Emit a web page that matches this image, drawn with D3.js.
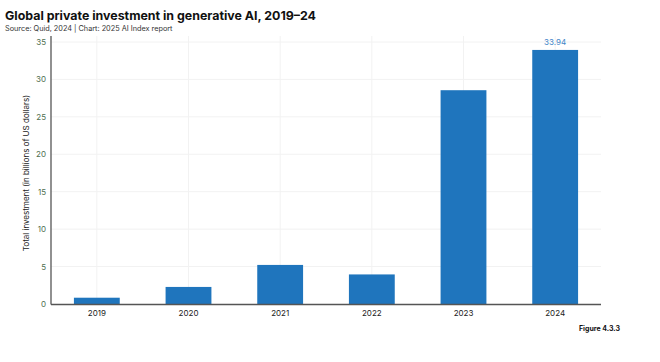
<!DOCTYPE html>
<head>
<meta charset="utf-8">
<script src="https://d3js.org/d3.v7.min.js"></script>
<style>
  body { margin: 0; background: #fff; font-family: Inter, "Noto Sans", sans-serif; }
</style>
</head>
<body>
<div id="chart"></div>
<script>
// data
var years = ["2019", "2020", "2021", "2022", "2023", "2024"];
var investment = [0.84, 2.28, 5.22, 3.95, 28.56, 33.94];
var yTicks = [0, 5, 10, 15, 20, 25, 30, 35];

var W = 660, H = 362;
var plotLeft = 51, plotRight = 601, plotTop = 42, plotBottom = 304;

var svg = d3.select("#chart").append("svg")
    .attr("width", W)
    .attr("height", H);

var x = d3.scaleBand().domain(years).range([plotLeft, plotRight])
    .paddingInner(0.5).paddingOuter(0.25);
var y = d3.scaleLinear().domain([0, 35]).range([plotBottom, plotTop]);

// title + source
svg.append("text")
    .attr("x", 5).attr("y", 20)
    .style("font-size", "12.4px").style("font-weight", "700").style("fill", "#111")
    .text("Global private investment in generative AI, 2019–24");
svg.append("text")
    .attr("x", 5).attr("y", 31)
    .style("font-size", "7.3px").style("fill", "#333")
    .text("Source: Quid, 2024 | Chart: 2025 AI Index report");

// grid
svg.append("g").selectAll("line")
    .data(yTicks.slice(1))
    .enter().append("line")
    .attr("x1", plotLeft).attr("x2", plotRight)
    .attr("y1", function(d) { return y(d); })
    .attr("y2", function(d) { return y(d); })
    .style("stroke", "#f2f2f2").style("stroke-width", 1);
svg.append("g").selectAll("line")
    .data(years)
    .enter().append("line")
    .attr("x1", function(d) { return x(d) + x.bandwidth() / 2; })
    .attr("x2", function(d) { return x(d) + x.bandwidth() / 2; })
    .attr("y1", y(35) - 6).attr("y2", plotBottom)
    .style("stroke", "#f2f2f2").style("stroke-width", 1);

// bars
svg.append("g").selectAll("rect")
    .data(investment)
    .enter().append("rect")
    .attr("x", function(d, i) { return x(years[i]); })
    .attr("y", function(d) { return y(d); })
    .attr("width", x.bandwidth())
    .attr("height", function(d) { return plotBottom - y(d); })
    .style("fill", "#1f75bd");

// label on last bar
svg.append("text")
    .attr("x", x(years[5]) + x.bandwidth() / 2)
    .attr("y", y(investment[5]) - 5)
    .attr("text-anchor", "middle")
    .style("font-size", "8px").style("fill", "#3f86c8")
    .text(investment[5].toFixed(2));

// axes
var yAxis = d3.axisLeft(y).tickValues(yTicks).tickSize(0).tickPadding(5);
var gy = svg.append("g")
    .attr("transform", "translate(" + plotLeft + ",0)")
    .call(yAxis);
gy.select(".domain").remove();
gy.selectAll("text").style("font-size", "8px").style("fill", "#4f6f50").style("font-family", "Inter, sans-serif");

var xAxis = d3.axisBottom(x).tickSize(0).tickPadding(6);
var gx = svg.append("g")
    .attr("transform", "translate(0," + plotBottom + ")")
    .call(xAxis);
gx.select(".domain").remove();
gx.selectAll("text").style("font-size", "8px").style("fill", "#222").style("font-family", "Inter, sans-serif");

svg.append("line")
    .attr("x1", plotLeft).attr("x2", plotLeft)
    .attr("y1", y(35) - 6).attr("y2", plotBottom + 0.5)
    .style("stroke", "#555").style("stroke-width", 1.3);
svg.append("line")
    .attr("x1", plotLeft).attr("x2", plotRight)
    .attr("y1", plotBottom + 0.5).attr("y2", plotBottom + 0.5)
    .style("stroke", "#555").style("stroke-width", 1.3);

// y axis title
svg.append("text")
    .attr("transform", "translate(29," + ((plotTop + plotBottom) / 2) + ") rotate(-90)")
    .attr("text-anchor", "middle")
    .style("font-size", "8px").style("fill", "#222")
    .text("Total investment (in billions of US dollars)");

svg.append("text")
    .attr("x", 620).attr("y", 331)
    .attr("text-anchor", "end")
    .style("font-size", "7px").style("font-weight", "700").style("fill", "#111")
    .text("Figure 4.3.3");
</script>
</body>
